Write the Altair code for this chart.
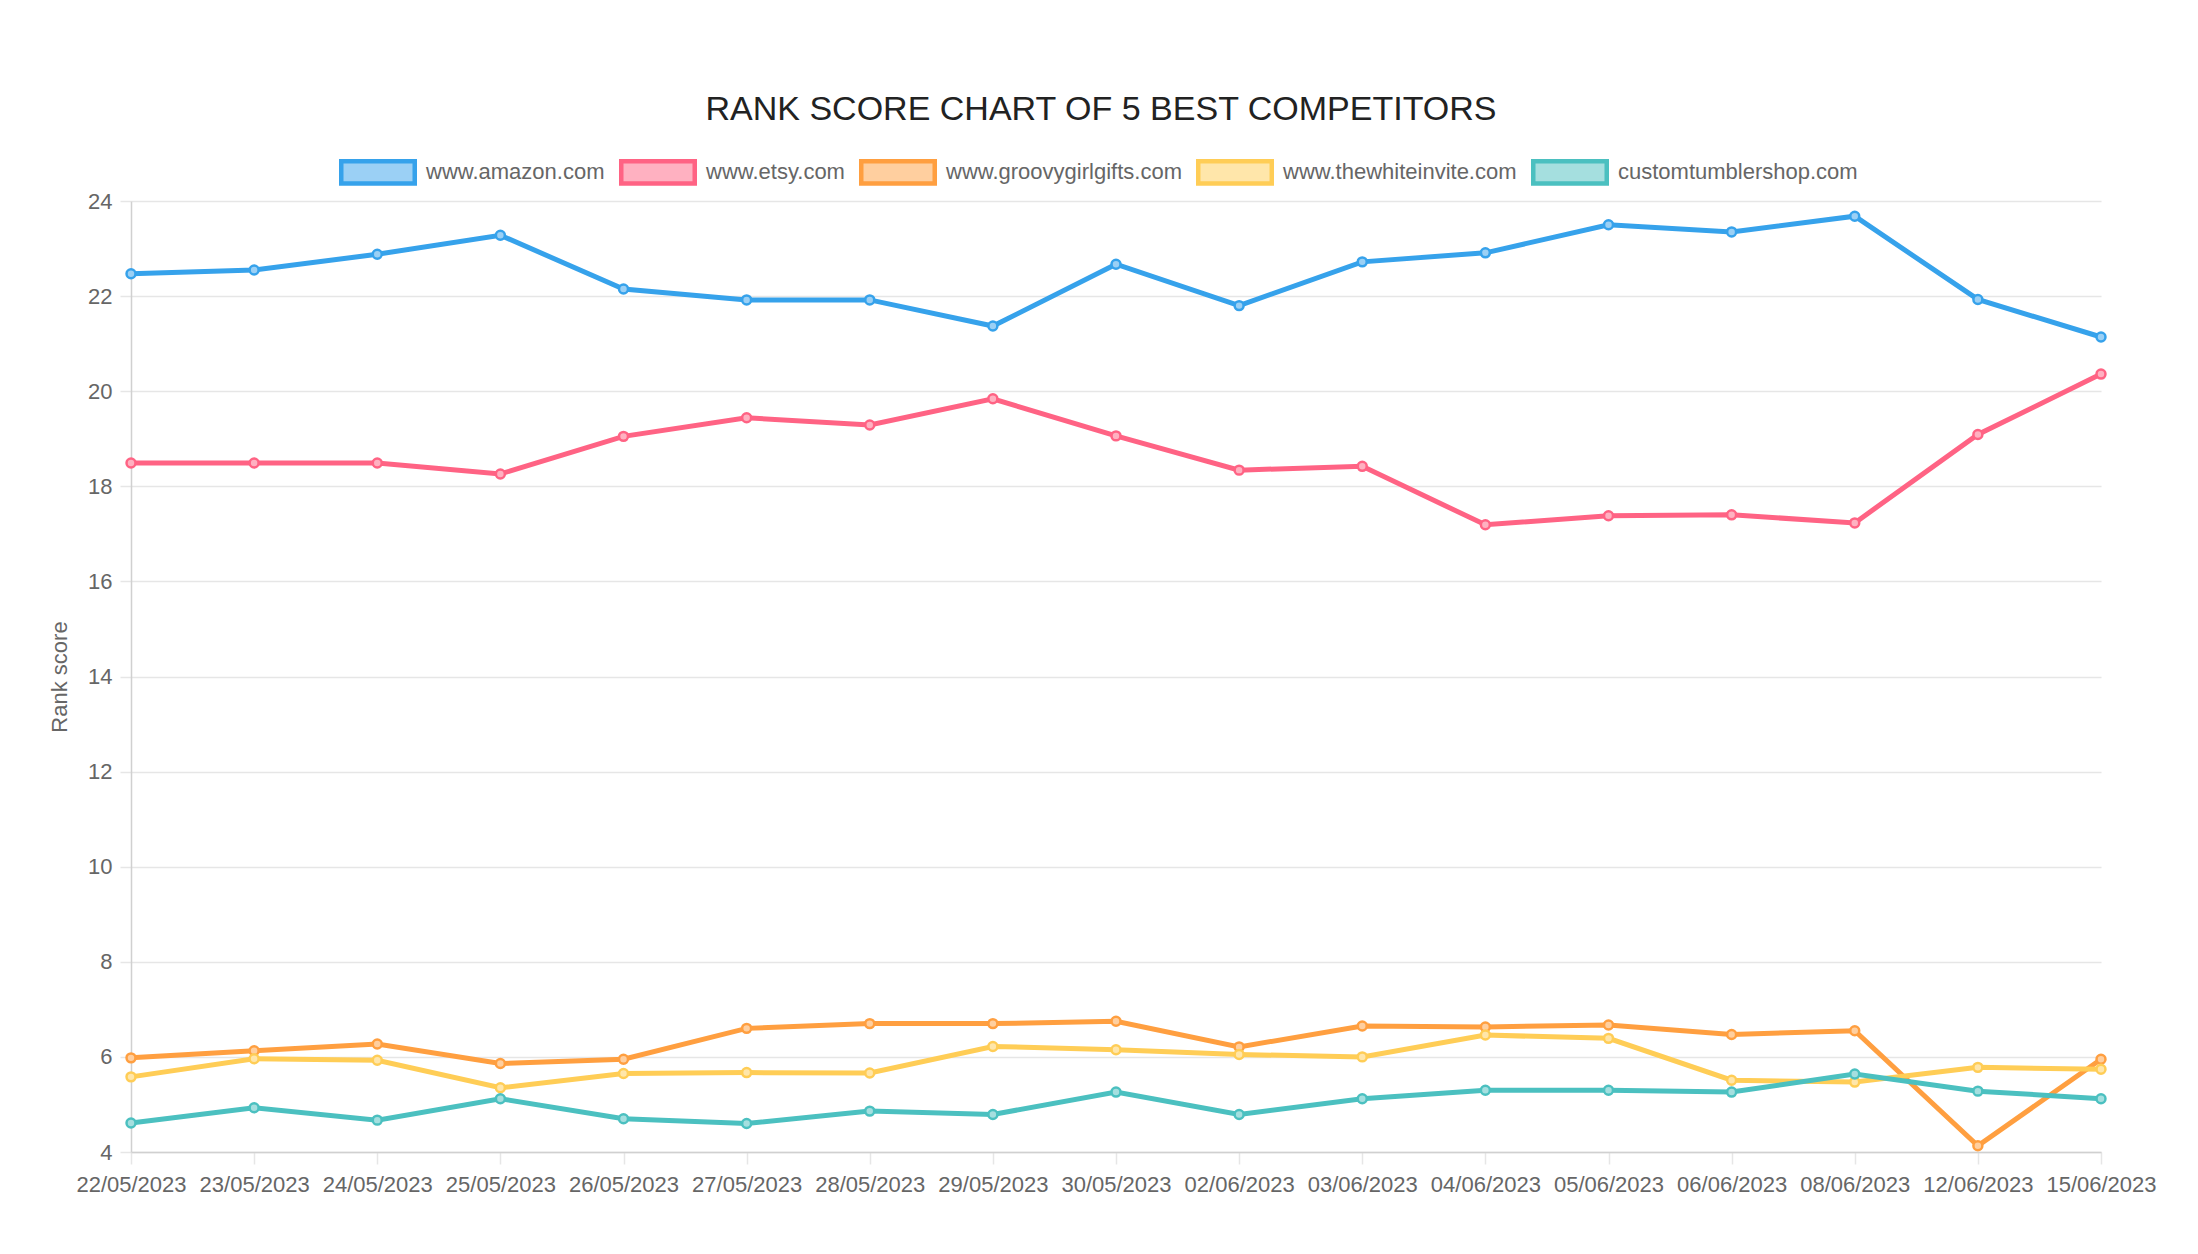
import altair as alt
import pandas as pd

dates = ["22/05/2023", "23/05/2023", "24/05/2023", "25/05/2023", "26/05/2023",
         "27/05/2023", "28/05/2023", "29/05/2023", "30/05/2023", "02/06/2023",
         "03/06/2023", "04/06/2023", "05/06/2023", "06/06/2023", "08/06/2023",
         "12/06/2023", "15/06/2023"]

sites = ["www.amazon.com", "www.etsy.com", "www.groovygirlgifts.com",
         "www.thewhiteinvite.com", "customtumblershop.com"]

amazon = [22.47, 22.55, 22.88, 23.28, 22.15, 21.92, 21.92, 21.37, 22.67, 21.80,
          22.72, 22.91, 23.50, 23.35, 23.68, 21.93, 21.14]
etsy = [18.49, 18.49, 18.49, 18.26, 19.05, 19.44, 19.29, 19.84, 19.06, 18.34,
        18.42, 17.19, 17.38, 17.40, 17.23, 19.09, 20.36]
groovy = [5.98, 6.13, 6.27, 5.86, 5.95, 6.60, 6.70, 6.70, 6.75, 6.21,
          6.65, 6.63, 6.67, 6.47, 6.55, 4.13, 5.95]
whiteinvite = [5.58, 5.96, 5.93, 5.35, 5.65, 5.67, 5.66, 6.22, 6.15, 6.05,
               6.00, 6.46, 6.39, 5.51, 5.47, 5.78, 5.74]
tumbler = [4.61, 4.93, 4.67, 5.12, 4.70, 4.60, 4.86, 4.79, 5.26, 4.79,
           5.12, 5.30, 5.30, 5.26, 5.64, 5.28, 5.12]

y_ticks = [4, 6, 8, 10, 12, 14, 16, 18, 20, 22, 24]

line_colors = ["#36a2eb", "#ff6384", "#ff9f40", "#ffcd56", "#4bc0c0"]
fill_colors = ["#9bd0f5", "#ffb1c1", "#ffcf9f", "#ffe6aa", "#a5dfdf"]

series = [amazon, etsy, groovy, whiteinvite, tumbler]
rows = []
for site, vals in zip(sites, series):
    for d, v in zip(dates, vals):
        rows.append({"date": d, "site": site, "score": v})
df = pd.DataFrame(rows)

FONT = "Liberation Sans"

legend = alt.Legend(
    title=None, orient="none", direction="horizontal",
    legendX=208, legendY=-68,
    symbolType="M-1,-0.306L1,-0.306L1,0.306L-1,0.306Z",
    symbolSize=5402, symbolStrokeWidth=4.5,
    labelFontSize=22, labelColor="#666666", labelFont=FONT, labelLimit=0,
    labelOffset=9, columnPadding=7, columns=5,
)

x_enc = alt.X(
    "date:O", sort=dates, scale=alt.Scale(type="point", padding=0),
    axis=alt.Axis(title="", labelAngle=0, labelFontSize=22, labelColor="#666666",
                  labelFont=FONT, tickSize=12, labelPadding=10, labelOverlap=False,
                  gridColor="#e6e6e6", gridWidth=1.5, tickColor="#e6e6e6",
                  tickWidth=1.5, domainColor="#d0d0d0", domainWidth=1.5),
)
y_enc = alt.Y(
    "score:Q", scale=alt.Scale(domain=[4, 24], nice=False, zero=False),
    axis=alt.Axis(values=y_ticks, title="Rank score", titleFontSize=22,
                  titleColor="#666666", titleFont=FONT, titleFontWeight="normal",
                  titlePadding=16, labelFontSize=22, labelColor="#666666",
                  labelFont=FONT, tickSize=11, labelPadding=8,
                  gridColor="#e6e6e6", gridWidth=1.5, tickColor="#e6e6e6",
                  tickWidth=1.5, domainColor="#d0d0d0", domainWidth=1.5),
)

stroke_enc = alt.Stroke("site:N", scale=alt.Scale(domain=sites, range=line_colors),
                        legend=legend)
fill_enc = alt.Fill("site:N", scale=alt.Scale(domain=sites, range=fill_colors),
                    legend=legend)

lines = alt.Chart(df).mark_line(strokeWidth=5).encode(
    x=x_enc, y=y_enc, stroke=stroke_enc
)
points = alt.Chart(df).mark_circle(size=80, strokeWidth=2.5, opacity=1).encode(
    x=x_enc, y=y_enc, stroke=stroke_enc, fill=fill_enc
)

chart = alt.layer(lines, points).properties(
    width=1970, height=951,
    autosize=alt.AutoSizeParams(type="none"),
    padding={"left": 123, "top": 193, "right": 89, "bottom": 80},
    title=alt.TitleParams(
        "RANK SCORE CHART OF 5 BEST COMPETITORS", fontSize=34, font=FONT,
        fontWeight="normal", color="#222222", anchor="middle", dx=-15, offset=6,
    ),
).configure_view(stroke=None)

chart.save("out.html", embed_options={"renderer": "svg", "actions": False})
